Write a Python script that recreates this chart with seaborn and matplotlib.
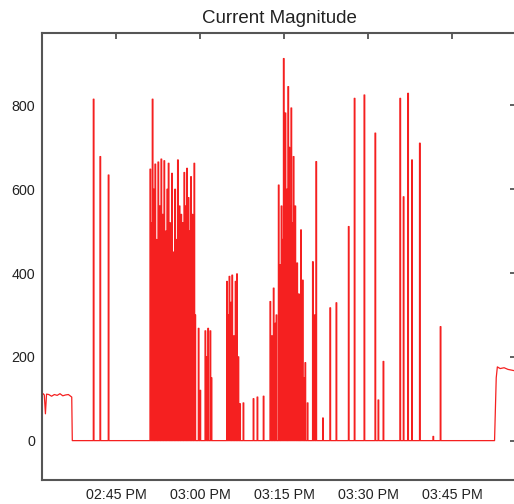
import pandas as pd
import numpy as np
import matplotlib
matplotlib.use("Agg")
import matplotlib.pyplot as plt
import matplotlib.dates as mdates
import seaborn as sns

# ------------------------------------------------------------------
# Current magnitude trace
# (times are minutes relative to 02:45 PM)
# ------------------------------------------------------------------
t0 = pd.Timestamp("2014-01-01 14:45:00")

# idle plateau at the start of the record
start_min = [-13.2, -13.0, -12.8, -12.6, -12.4, -12.0, -11.5, -11.0, -10.5,
             -10.0, -9.5, -9.0, -8.5, -8.1, -7.9]
start_val = [108, 112, 109, 64, 111, 110, 106, 110, 108, 112, 107, 109, 110,
             106, 104]

# spikes: time (min) and peak value
spike_min = [-4.05, -2.86, -1.38,
             6.07, 6.3, 6.48, 6.7, 6.96, 7.2, 7.5, 7.75, 8.04, 8.3, 8.57,
             8.85, 9.1, 9.34, 9.6, 9.95, 10.2, 10.5, 10.75, 11.0, 11.3, 11.6,
             11.85, 12.14, 12.4, 12.63, 12.9, 13.1, 13.34, 13.6, 13.93, 14.1,
             14.7, 15.0, 15.9, 16.1, 16.4, 16.8, 17.0,
             19.77, 20.0, 20.2, 20.45, 20.7, 21.0, 21.3, 21.55, 21.8, 22.1,
             22.7, 24.5, 25.2, 26.3,
             27.5, 27.8, 28.1, 28.4, 28.6, 29.0, 29.2, 29.5, 29.7, 29.9,
             30.05, 30.2, 30.45, 30.7, 30.9, 31.05, 31.25, 31.45, 31.66, 31.8,
             31.96, 32.1, 32.3, 32.6, 32.98, 33.15, 33.3, 33.5, 33.75, 34.16,
             35.1, 35.4, 35.7, 36.9,
             38.2, 39.3, 41.5, 42.55, 44.3, 46.25, 46.8, 47.7,
             50.7, 51.3, 52.1, 52.8, 54.2, 56.6, 57.9]
spike_peak = [815, 678, 634,
              648, 520, 815, 600, 660, 480, 665, 560, 672, 540, 668,
              500, 600, 662, 520, 638, 450, 600, 480, 670, 560, 540,
              520, 640, 560, 650, 580, 500, 630, 540, 662, 300,
              268, 120, 262, 200, 268, 262, 150,
              380, 300, 392, 330, 395, 250, 380, 398, 200, 88,
              90, 100, 104, 106,
              332, 250, 364, 280, 300, 610, 420, 560, 480, 912,
              650, 782, 600, 845, 700, 560, 794, 520, 678, 450,
              560, 300, 424, 350, 503, 250, 383, 150, 186, 90,
              427, 300, 666, 54,
              317, 329, 511, 817, 825, 734, 97, 189,
              817, 582, 829, 670, 710, 10, 272]
spike_width = 0.12

# plateau at the end of the record
end_min = [67.6, 67.9, 68.1, 68.6, 69.3, 70.0, 70.7, 71.5]
end_val = [0, 150, 176, 172, 174, 170, 168, 166]

# assemble the trace
mins = list(start_min) + [-7.8]
vals = list(start_val) + [0]
for t, p in zip(spike_min, spike_peak):
    mins += [t, t, t + spike_width, t + spike_width]
    vals += [0, p, p, 0]
mins += end_min
vals += end_val

df = pd.DataFrame({
    "time": t0 + pd.to_timedelta(mins, unit="m"),
    "current": vals,
})

# ------------------------------------------------------------------
# Plot
# ------------------------------------------------------------------
sns.set_style("white")
plt.rcParams["font.family"] = ["Liberation Sans", "DejaVu Sans"]

fig = plt.figure(figsize=(5.14, 5.04), dpi=100)
ax = fig.add_axes([42 / 514, 1 - 480 / 504, 474 / 514, 447 / 504])

sns.lineplot(data=df, x="time", y="current", estimator=None, sort=False,
             color="#f52020", linewidth=0.9, ax=ax)

ax.set_xlim(t0 + pd.Timedelta(minutes=-13.21), t0 + pd.Timedelta(minutes=71.43))
ax.set_ylim(-94, 973)

xticks = [t0 + pd.Timedelta(minutes=m) for m in (0, 15, 30, 45, 60)]
ax.set_xticks(xticks)
ax.xaxis.set_major_formatter(mdates.DateFormatter("%I:%M %p"))
ax.set_yticks(range(0, 801, 200))
ax.set_yticks(range(100, 901, 200), minor=True)

ax.tick_params(axis="both", which="both", direction="in", length=4,
               width=1.2, color="#444444", labelsize=10.3,
               labelcolor="#222222", top=True, right=True)
ax.tick_params(axis="y", which="minor", right=False)
ax.tick_params(axis="x", pad=6)
ax.tick_params(axis="y", pad=5)

for s in ax.spines.values():
    s.set_color("#555555")
    s.set_linewidth(1.5)

ax.set_xlabel("")
ax.set_ylabel("")
ax.set_title("Current Magnitude", fontsize=13.5, color="#222222", pad=7)

fig.savefig("out.png", dpi=100)
